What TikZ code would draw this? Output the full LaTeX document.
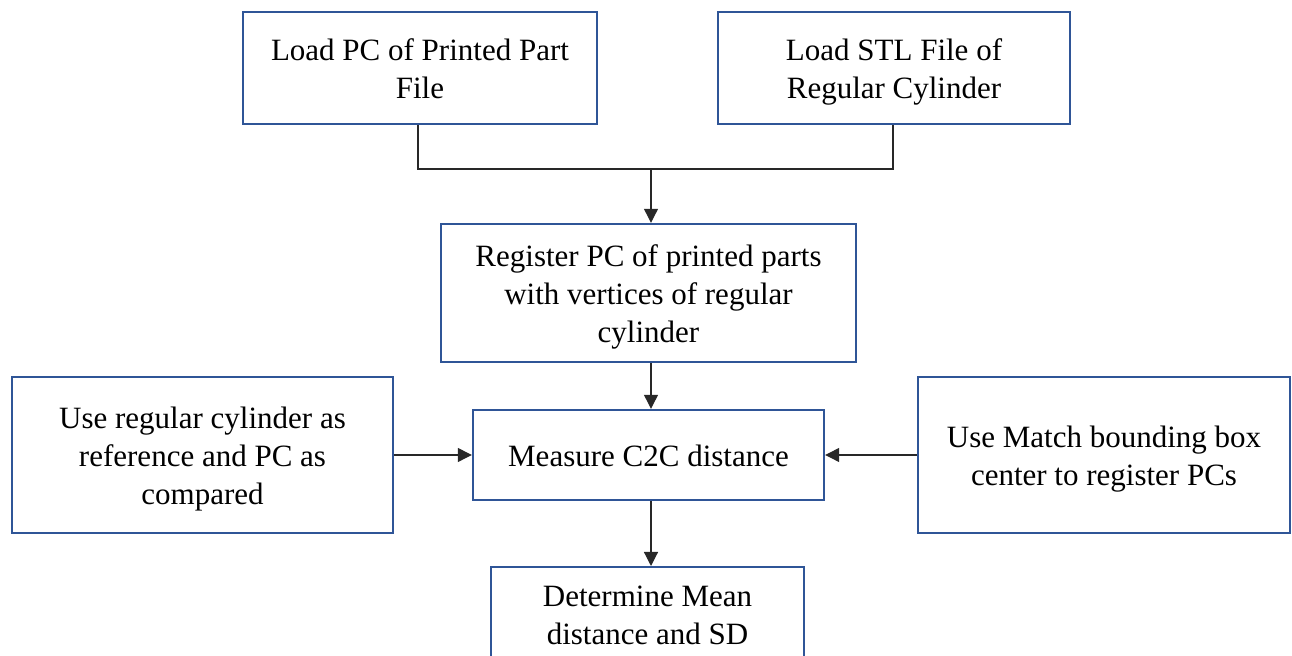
\documentclass[tikz,border=0pt]{standalone}
\usepackage{fontspec}
\setmainfont{Liberation Serif}
\usetikzlibrary{arrows.meta}
\definecolor{boxblue}{RGB}{47,85,151}
\definecolor{linegray}{RGB}{40,40,40}
\begin{document}
\begin{tikzpicture}[x=0.5pt,y=-0.5pt,
  stepbox/.style={draw=boxblue,line width=1.2pt,rectangle,inner sep=0pt},
  txt/.style={align=center,inner sep=0pt,yshift=-3pt,
    font=\fontsize{15.5}{19}\selectfont,text=black,
    execute at begin node=\strut,execute at end node=\strut},
  conn/.style={draw=linegray,line width=0.6pt},
  arr/.style={conn,-{Triangle[length=7pt,width=7pt]}}]
\useasboundingbox (0,0) rectangle (1292,656);
\clip (0,0) rectangle (1292,656);
\node[stepbox,minimum width=177pt,minimum height=56pt,label={[txt]center:{Load PC of Printed Part\\File}}] (a) at (420,68) {};
\node[stepbox,minimum width=176pt,minimum height=56pt,label={[txt]center:{Load STL File of\\Regular Cylinder}}] (b) at (894,68) {};
\node[stepbox,minimum width=207.5pt,minimum height=69pt,label={[txt]center:{Register PC of printed parts\\with vertices of regular\\cylinder}}] (c) at (648.5,293) {};
\node[stepbox,minimum width=175.5pt,minimum height=45pt,label={[txt,yshift=1pt]center:{Measure C2C distance}}] (d) at (648.5,455) {};
\node[stepbox,minimum width=190.5pt,minimum height=78pt,label={[txt]center:{Use regular cylinder as\\reference and PC as\\compared}}] (e) at (202.5,455) {};
\node[stepbox,minimum width=186pt,minimum height=78pt,label={[txt]center:{Use Match bounding box\\center to register PCs}}] (f) at (1104,455) {};
\node[stepbox,minimum width=156.5pt,minimum height=50pt,anchor=north,label={[txt,yshift=1pt]center:{Determine Mean\\distance and SD}}] (g) at (647.5,566) {};
\coordinate (j1) at (418,169);
\coordinate (j2) at (893,169);
\coordinate (jm) at (651,169);
\draw[conn] (a.south -| j1) -- (j1) -- (j2) -- (b.south -| j2);
\draw[arr] (jm) -- (c.north -| jm);
\draw[arr] (c.south -| jm) -- (d.north -| jm);
\draw[arr] (e.east |- d) -- (d.west);
\draw[arr] (f.west |- d) -- (d.east);
\draw[arr] (d.south -| jm) -- (g.north -| jm);
\end{tikzpicture}
\end{document}
